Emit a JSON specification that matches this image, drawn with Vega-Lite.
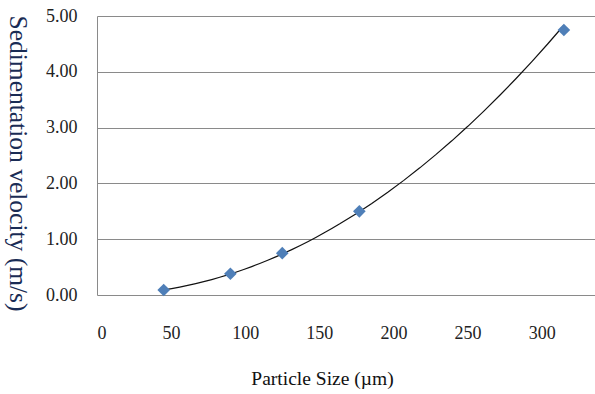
{
  "$schema": "https://vega.github.io/schema/vega-lite/v6.json",
  "autosize": "none",
  "width": 498,
  "height": 279,
  "padding": {"left": 97, "top": 16, "right": 0, "bottom": 99},
  "background": "white",
  "config": {
    "view": {"stroke": null},
    "font": "Liberation Serif",
    "axis": {"labelFont": "Liberation Serif", "titleFont": "Liberation Serif", "labelColor": "#222", "titleFontWeight": "normal"}
  },
  "data": {"values": [
    {"size": 45, "velocity": 0.09},
    {"size": 90, "velocity": 0.38},
    {"size": 125, "velocity": 0.75},
    {"size": 177, "velocity": 1.5},
    {"size": 315, "velocity": 4.75}
  ]},
  "layer": [
    {
      "transform": [{"regression": "velocity", "on": "size", "method": "pow"}],
      "mark": {"type": "line", "color": "#111", "strokeWidth": 1.2},
      "encoding": {
        "x": {"field": "size", "type": "quantitative"},
        "y": {"field": "velocity", "type": "quantitative"}
      }
    },
    {
      "mark": {"type": "point", "shape": "diamond", "filled": true, "color": "#4f7fb8", "opacity": 1, "size": 160},
      "encoding": {
        "x": {"field": "size", "type": "quantitative", "scale": {"domain": [0, 336], "nice": false},
          "axis": {"values": [0, 50, 100, 150, 200, 250, 300], "grid": false, "domain": false, "ticks": false, "labelPadding": 29, "labelFontSize": 18, "title": "Particle Size (µm)", "titleFontSize": 19.5, "titleX": 225, "titleY": 83, "titleBaseline": "middle", "titleAlign": "center", "titleColor": "#111"}},
        "y": {"field": "velocity", "type": "quantitative", "scale": {"domain": [0, 5], "nice": false},
          "axis": {"values": [0, 1, 2, 3, 4, 5], "format": ".2f", "grid": true, "gridColor": "#8a8a8a", "gridWidth": 1, "domain": true, "domainColor": "#8a8a8a", "ticks": false, "labelPadding": 20, "labelFontSize": 18, "title": "Sedimentation velocity  (m/s)", "titleFontSize": 25.5, "titleAngle": 90, "titleX": -80, "titleY": 147, "titleBaseline": "middle", "titleAlign": "center", "titleColor": "#1a2c55"}}
      }
    }
  ]
}
